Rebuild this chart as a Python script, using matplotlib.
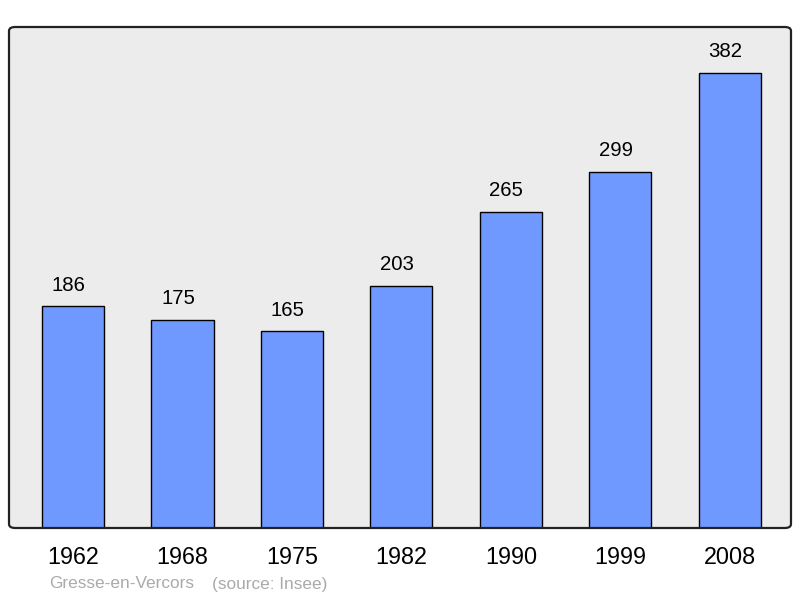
import matplotlib.pyplot as plt
from matplotlib.patches import FancyBboxPatch

plt.rcParams['font.family'] = ['Liberation Sans', 'DejaVu Sans']

years = ['1962', '1968', '1975', '1982', '1990', '1999', '2008']
population = [186, 175, 165, 203, 265, 299, 382]

fig = plt.figure(figsize=(8, 5.98), dpi=100)
ax = fig.add_axes([9 / 800, 70 / 598, 782 / 800, 501 / 598])
ax.set_facecolor('#ececec')

x = range(len(years))
ax.bar(x, population, width=0.567, color='#7099ff', edgecolor='black', linewidth=1, zorder=2)

for i, v in enumerate(population):
    ax.annotate(str(v), (i, v), xytext=(-3.2, 8.6), textcoords='offset points',
                ha='center', va='bottom', fontsize=14.7, color='black')

ax.set_xlim(-0.585, 6.56)
ax.set_ylim(0, 420.6)
ax.set_xticks(list(x))
ax.set_xticklabels(years, fontsize=16.8)
ax.tick_params(axis='x', length=0, pad=13)
ax.set_yticks([])

for s in ax.spines.values():
    s.set_visible(False)

# rounded frame around the plot area
frame = FancyBboxPatch((0, 0), 1, 1, boxstyle='round,pad=0,rounding_size=0.008',
                       transform=ax.transAxes, fill=False, edgecolor='#222222',
                       linewidth=1.6, zorder=5, clip_on=False)
ax.add_patch(frame)

fig.text(49 / 800, 1 - 584 / 598, 'Gresse-en-Vercors', fontsize=12.4, color='#aaaaaa', va='center')
fig.text(212 / 800, 1 - 584 / 598, '(source: Insee)', fontsize=12.4, color='#aaaaaa', va='center')

fig.savefig('out.png', dpi=100)
